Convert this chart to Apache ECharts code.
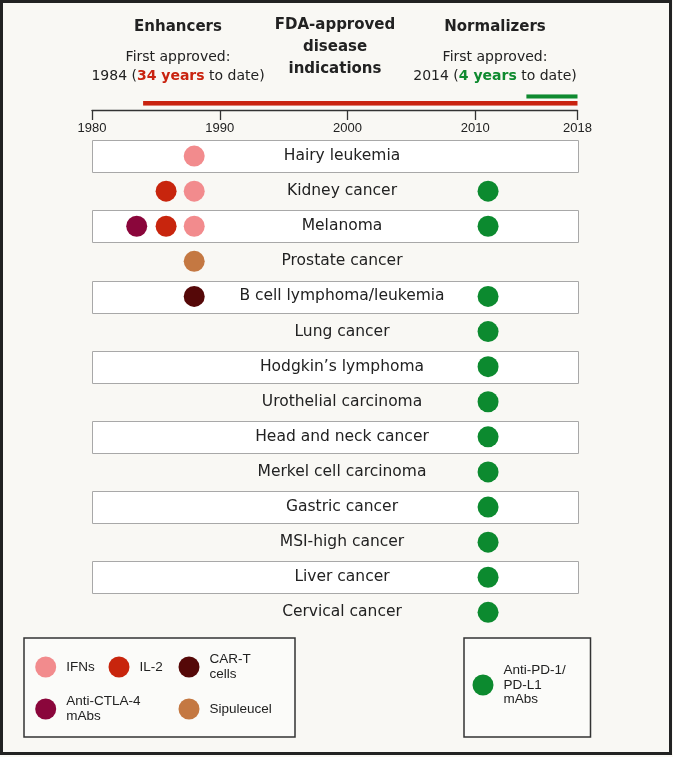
<!DOCTYPE html>
<html><head><meta charset="utf-8">
<script src="https://cdn.jsdelivr.net/npm/echarts@6/dist/echarts.min.js"></script>
<style>html,body{margin:0;padding:0;background:#f9f8f4;}#c{width:673px;height:757px;}</style>
</head><body><div id="c"></div>
<script>
const diseases = ['Hairy leukemia','Kidney cancer','Melanoma','Prostate cancer','B cell lymphoma/leukemia','Lung cancer','Hodgkin\u2019s lymphoma','Urothelial carcinoma','Head and neck cancer','Merkel cell carcinoma','Gastric cancer','MSI-high cancer','Liver cancer','Cervical cancer'];
const stripedRows = ['Hairy leukemia','Melanoma','B cell lymphoma/leukemia','Hodgkin\u2019s lymphoma','Head and neck cancer','Gastric cancer','Liver cancer'];
const axisRange = [1980, 2018];
const tickYears = [1980, 1990, 2000, 2010, 2018];
const enhancerSpan = [1984, 2018];
const normalizerSpan = [2014, 2018];
const ifns = [[1988,'Hairy leukemia'],[1988,'Kidney cancer'],[1988,'Melanoma']];
const il2 = [[1985.8,'Kidney cancer'],[1985.8,'Melanoma']];
const antiCTLA4 = [[1983.5,'Melanoma']];
const sipuleucel = [[1988,'Prostate cancer']];
const carT = [[1988,'B cell lymphoma/leukemia']];
const antiPD1 = [[2011,'Kidney cancer'],[2011,'Melanoma'],[2011,'B cell lymphoma/leukemia'],[2011,'Lung cancer'],[2011,'Hodgkin\u2019s lymphoma'],[2011,'Urothelial carcinoma'],[2011,'Head and neck cancer'],[2011,'Merkel cell carcinoma'],[2011,'Gastric cancer'],[2011,'MSI-high cancer'],[2011,'Liver cancer'],[2011,'Cervical cancer']];
const seriesNames = ['IFNs','IL-2','CAR-T cells','Anti-CTLA-4 mAbs','Sipuleucel','Anti-PD-1/PD-L1 mAbs'];
const legendLabels = ['IFNs','IL-2','CAR-T\ncells','Anti-CTLA-4\nmAbs','Sipuleucel','Anti-PD-1/\nPD-L1\nmAbs'];
const colors = {'IFNs':'#f28b8d','IL-2':'#c8250d','CAR-T cells':'#550808','Anti-CTLA-4 mAbs':'#8a063b','Sipuleucel':'#c47842','Anti-PD-1/PD-L1 mAbs':'#0c8a2f'};
const RED = '#c9230f', GREEN = '#0f8a2f';

const chart = echarts.init(document.getElementById('c'));
const SANS = 'DejaVu Sans';
const LIB = 'Liberation Sans';

function scatter(name, data) {
  return {type:'scatter', name, xAxisIndex:1, yAxisIndex:1, data, symbolSize:21, z:4,
    itemStyle:{color:colors[name], opacity:1}, emphasis:{disabled:true}};
}
function legendItem(i, left, top, padTop) {
  return {data:[seriesNames[i]], left, top, padding:0, icon:'circle', itemWidth:31, itemHeight:21,
    selectedMode:false, formatter: n => legendLabels[seriesNames.indexOf(n)],
    textStyle:{fontFamily:LIB, fontSize:13.5, lineHeight:14.5, color:'#222', padding:[padTop||0,0,0,0], backgroundColor:'rgba(0,0,0,0)'}};
}

const option = {
  backgroundColor:'#f9f8f4',
  animation:false,
  grid:[
    {left:92, width:485.5, top:96.4, height:7},
    {left:92, width:485.5, top:138.5, height:491.4}
  ],
  xAxis:[
    {type:'value', gridIndex:0, min:axisRange[0], max:axisRange[1], position:'bottom', offset:6.6,
     axisLine:{show:true, lineStyle:{color:'#333', width:1.3}},
     axisTick:{show:true, length:10, customValues:tickYears, lineStyle:{color:'#333', width:1.3}},
     axisLabel:{show:true, customValues:tickYears, margin:12, formatter:v=>String(v), fontFamily:LIB, fontSize:13, color:'#222'},
     splitLine:{show:false}},
    {type:'value', gridIndex:1, min:axisRange[0], max:axisRange[1], show:false, splitLine:{show:false}}
  ],
  yAxis:[
    {type:'category', gridIndex:0, data:['Enhancers','Normalizers'], boundaryGap:false, show:false},
    {type:'category', gridIndex:1, data:diseases, inverse:true, z:10,
     axisLine:{show:false}, axisTick:{show:false}, splitLine:{show:false},
     axisLabel:{inside:true, margin:250, align:'center', interval:0, fontFamily:SANS, fontSize:15.5, color:'#222', padding:[3,0,0,0], backgroundColor:'rgba(0,0,0,0)'}}
  ],
  legend:[
    legendItem(0, 35.2, 656.5),
    legendItem(1, 108.5, 656.5),
    legendItem(2, 178.5, 649, 7),
    legendItem(3, 35.2, 692, 5),
    legendItem(4, 178.5, 698.5),
    legendItem(5, 472.5, 660, 6.5)
  ],
  graphic:[
    {type:'rect', shape:{x:1.5, y:1.5, width:669, height:752}, style:{fill:'none', stroke:'#222', lineWidth:3}, z:-1},
    {type:'rect', shape:{x:24, y:638, width:271, height:99}, style:{fill:'#fbfbf9', stroke:'#333', lineWidth:1.5}, z:-1},
    {type:'rect', shape:{x:464, y:638, width:126.5, height:99}, style:{fill:'#fbfbf9', stroke:'#333', lineWidth:1.5}, z:-1},
    {type:'text', x:178, y:27, style:{text:'Enhancers', font:'bold 15px "DejaVu Sans"', fill:'#222', textAlign:'center', textVerticalAlign:'middle'}},
    {type:'text', x:178, y:57, style:{text:'First approved:', font:'14px "DejaVu Sans"', fill:'#222', textAlign:'center', textVerticalAlign:'middle'}},
    {type:'text', x:178, y:76, style:{text:enhancerSpan[0]+' ({r|'+(enhancerSpan[1]-enhancerSpan[0])+' years} to date)', font:'14px "DejaVu Sans"', fill:'#222', textAlign:'center', textVerticalAlign:'middle',
      rich:{r:{fontFamily:SANS, fontWeight:'bold', fontSize:14, fill:RED}}}},
    {type:'text', x:335, y:47, style:{text:'FDA-approved\ndisease\nindications', font:'bold 15px "DejaVu Sans"', lineHeight:22, fill:'#222', textAlign:'center', textVerticalAlign:'middle'}},
    {type:'text', x:495, y:27, style:{text:'Normalizers', font:'bold 15px "DejaVu Sans"', fill:'#222', textAlign:'center', textVerticalAlign:'middle'}},
    {type:'text', x:495, y:57, style:{text:'First approved:', font:'14px "DejaVu Sans"', fill:'#222', textAlign:'center', textVerticalAlign:'middle'}},
    {type:'text', x:495, y:76, style:{text:normalizerSpan[0]+' ({g|'+(normalizerSpan[1]-normalizerSpan[0])+' years} to date)', font:'14px "DejaVu Sans"', fill:'#222', textAlign:'center', textVerticalAlign:'middle',
      rich:{g:{fontFamily:SANS, fontWeight:'bold', fontSize:14, fill:GREEN}}}}
  ],
  series:[
    {type:'line', name:'enhancerSpan', xAxisIndex:0, yAxisIndex:0, data:[[enhancerSpan[0],'Enhancers'],[enhancerSpan[1],'Enhancers']],
     symbol:'none', lineStyle:{color:RED, width:4.6, cap:'butt'}},
    {type:'line', name:'normalizerSpan', xAxisIndex:0, yAxisIndex:0, data:[[normalizerSpan[0],'Normalizers'],[normalizerSpan[1],'Normalizers']],
     symbol:'none', lineStyle:{color:GREEN, width:4.4, cap:'butt'}},
    {type:'custom', name:'rows', xAxisIndex:1, yAxisIndex:1, z:1,
     data: stripedRows.map(r => [axisRange[0], axisRange[1], r]),
     encode:{x:[0,1], y:2},
     renderItem:(params, api) => {
       const p0 = api.coord([api.value(0), api.value(2)]);
       const p1 = api.coord([api.value(1), api.value(2)]);
       const h = api.size([0,1])[1]*0.9;
       return {type:'rect', shape:{x:Math.round(p0[0])+0.5, y:Math.round(p0[1]-h/2)+0.5, width:Math.round(p1[0]-p0[0]), height:Math.round(h)},
         style:{fill:'#ffffff', stroke:'#a8a8a8', lineWidth:1}};
     }},
    scatter('IFNs', ifns),
    scatter('IL-2', il2),
    scatter('CAR-T cells', carT),
    scatter('Anti-CTLA-4 mAbs', antiCTLA4),
    scatter('Sipuleucel', sipuleucel),
    scatter('Anti-PD-1/PD-L1 mAbs', antiPD1)
  ]
};
chart.setOption(option);
</script></body></html>
